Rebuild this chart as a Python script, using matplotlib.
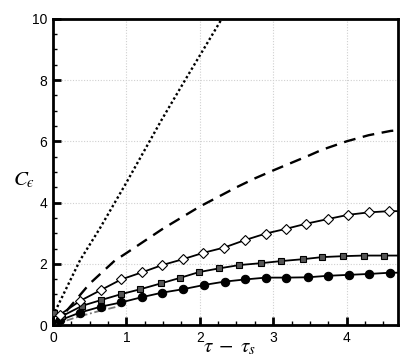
import matplotlib
matplotlib.use("Agg")
import matplotlib.pyplot as plt
from matplotlib.ticker import MultipleLocator

plt.rcParams['font.family'] = ['Liberation Sans', 'DejaVu Sans']
plt.rcParams['mathtext.fontset'] = 'stix'

# Dotted curve
dot_x = [0.0, 0.37, 0.64, 1.0, 1.48, 1.80, 2.30]
dot_y = [0.3, 2.12, 3.16, 4.65, 6.70, 8.0, 10.0]

# Dashed curve
dash_x = [0.0, 0.16, 0.5, 0.84, 1.0, 1.5, 2.0, 2.5, 2.75, 3.0, 3.5, 3.66, 4.0, 4.3, 4.6, 4.7]
dash_y = [0.0, 0.39, 1.35, 2.1, 2.35, 3.15, 3.87, 4.5, 4.79, 5.05, 5.55, 5.72, 6.0, 6.2, 6.34, 6.36]

# Diamond series
dia_x = [0.09, 0.37, 0.65, 0.93, 1.21, 1.49, 1.77, 2.05, 2.33, 2.61, 2.90, 3.17, 3.45, 3.74, 4.02, 4.30, 4.58]
dia_y = [0.33, 0.79, 1.14, 1.49, 1.72, 1.96, 2.15, 2.36, 2.53, 2.77, 2.99, 3.14, 3.31, 3.46, 3.60, 3.68, 3.72]

# Square series
sq_x = [0.02, 0.13, 0.40, 0.66, 0.93, 1.19, 1.47, 1.73, 1.99, 2.26, 2.54, 2.83, 3.11, 3.40, 3.67, 3.95, 4.23, 4.51]
sq_y = [0.40, 0.30, 0.63, 0.82, 1.01, 1.17, 1.36, 1.54, 1.73, 1.85, 1.96, 2.02, 2.09, 2.15, 2.22, 2.25, 2.27, 2.27]

# Circle series
cir_x = [0.09, 0.37, 0.65, 0.93, 1.21, 1.49, 1.77, 2.06, 2.34, 2.62, 2.90, 3.18, 3.47, 3.75, 4.03, 4.31, 4.59]
cir_y = [0.15, 0.41, 0.60, 0.74, 0.91, 1.06, 1.17, 1.31, 1.42, 1.49, 1.55, 1.55, 1.56, 1.61, 1.64, 1.67, 1.71]

# Dash-dot gray curve
dd_x = [0.0, 0.3, 0.6, 0.89]
dd_y = [0.0, 0.24, 0.44, 0.61]

x_end = 4.7

fig = plt.figure(figsize=(4.07, 3.62), dpi=100)
ax = fig.add_axes([0.130, 0.102, 0.848, 0.846])

ax.grid(True, which='major', color='#d0d0d0', linestyle=(0, (1, 1.5)), linewidth=0.8)
ax.set_axisbelow(True)

ax.plot(dot_x, dot_y, color='black', linestyle=(0, (1, 1.1)), linewidth=1.7)
ax.plot(dash_x, dash_y, color='black', linestyle=(0, (5, 3.2)), linewidth=1.7)
ax.plot(dd_x, dd_y, color='#777777', linestyle=(0, (4, 1.5, 1, 1.5)), linewidth=1.3)

def series(xs, ys, marker, mfc, ms):
    lx = [0.0] + xs + [x_end]
    ly = [0.0] + ys + [ys[-1]]
    ax.plot(lx, ly, color='black', linewidth=1.3, zorder=3)
    ax.plot(xs, ys, linestyle='none', marker=marker, markerfacecolor=mfc,
            markeredgecolor='black', markersize=ms, markeredgewidth=0.8, zorder=4)

series(cir_x, cir_y, 'o', 'black', 6.0)
series(sq_x, sq_y, 's', '#555555', 5.0)
series(dia_x, dia_y, 'D', 'white', 5.5)

ax.set_xlim(0, x_end)
ax.set_ylim(0, 10)
ax.xaxis.set_major_locator(MultipleLocator(1))
ax.xaxis.set_minor_locator(MultipleLocator(0.25))
ax.yaxis.set_major_locator(MultipleLocator(2))
ax.yaxis.set_minor_locator(MultipleLocator(0.5))
ax.tick_params(which='major', direction='in', length=6, width=2, labelsize=10, pad=4)
ax.tick_params(which='minor', direction='in', length=3, width=1)
for s in ax.spines.values():
    s.set_linewidth(2)

ax.set_xlabel(r'$\tau\;-\;\tau_s$', fontsize=15)
ax.set_ylabel('$C_{\u03f5}$', fontsize=15, rotation=0, va='center', ha='center')
ax.xaxis.set_label_coords(0.513, -0.072)
ax.yaxis.set_label_coords(-0.085, 0.474)
ax.xaxis.label.set_va('center')

fig.savefig('out.png', dpi=100)
